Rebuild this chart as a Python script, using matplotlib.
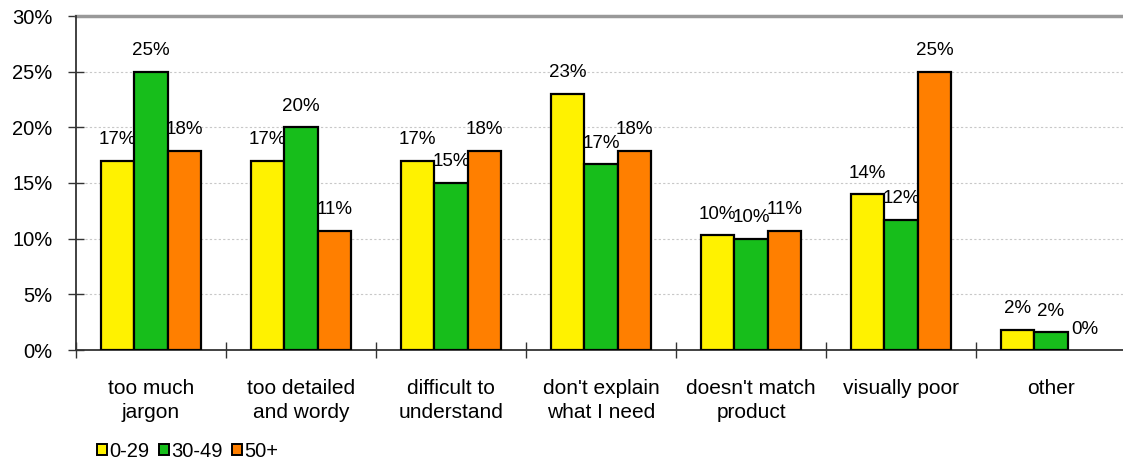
import matplotlib
matplotlib.use("Agg")
import matplotlib.pyplot as plt
from matplotlib.patches import Patch
import numpy as np

plt.rcParams['font.family'] = ['Liberation Sans', 'DejaVu Sans']

categories = ["too much\njargon", "too detailed\nand wordy", "difficult to\nunderstand",
              "don't explain\nwhat I need", "doesn't match\nproduct", "visually poor", "other"]
series_names = ["0-29", "30-49", "50+"]
age_0_29 = [17.0, 17.0, 17.0, 23.0, 10.3, 14.0, 1.8]
age_30_49 = [25.0, 20.0, 15.0, 16.7, 10.0, 11.7, 1.6]
age_50_plus = [17.9, 10.7, 17.9, 17.9, 10.7, 25.0, 0.0]
y_ticks = [0, 5, 10, 15, 20, 25, 30]

colors = ["#FFF200", "#17BE1B", "#FF7F00"]
W, H = 1123, 461
fig = plt.figure(figsize=(W / 100, H / 100), dpi=100)
ax = fig.add_axes([76 / W, (H - 350) / H, 1050 / W, 334 / H])

x = np.arange(len(categories))
bw = 2 / 9
for k, (vals, col, name) in enumerate(zip([age_0_29, age_30_49, age_50_plus], colors, series_names)):
    pos = x + (k - 1) * bw
    lws = [1.6 if v > 0 else 0 for v in vals]
    ax.bar(pos, vals, width=bw, color=col, edgecolor="black", linewidth=lws, zorder=3, label=name)
    for px, v in zip(pos, vals):
        ax.annotate(f"{round(v):d}%", (px, v), xytext=(0, 9), textcoords="offset points",
                    ha="center", va="bottom", fontsize=13.5, zorder=4)

ax.set_xlim(-0.5, len(categories) - 0.5)
ax.set_ylim(0, 30)

# gridlines
for yv in y_ticks[1:-1]:
    ax.axhline(yv, color="#C8C8C8", linestyle=(0, (2, 2)), linewidth=0.8, zorder=1)
ax.axhline(30, color="#999999", linewidth=2.5, zorder=2, clip_on=False)

for s in ["top", "right"]:
    ax.spines[s].set_visible(False)
ax.spines["left"].set_color("#333333")
ax.spines["bottom"].set_color("#333333")
ax.spines["left"].set_linewidth(1.3)
ax.spines["bottom"].set_linewidth(1.3)

ax.set_yticks(y_ticks)
ax.set_yticklabels([f"{t}%" for t in y_ticks])
ax.tick_params(axis="y", direction="inout", length=12, width=1, color="#333333",
               labelsize=14.5, pad=11)

ax.set_xticks(np.arange(-0.5, len(categories), 1.0))
ax.set_xticklabels([])
ax.tick_params(axis="x", which="major", direction="inout", length=12, width=1, color="#333333")
ax.set_xticks(x, minor=True)
ax.set_xticklabels(categories, minor=True, fontsize=15, linespacing=1.32)
ax.tick_params(axis="x", which="minor", length=0, pad=21)

handles = [Patch(facecolor=c, edgecolor="black", linewidth=1.4) for c in colors]
fig.legend(handles, series_names, loc="center left", bbox_to_anchor=(97 / W, 1 - 451 / H),
           frameon=False, fontsize=14.5, handlelength=0.5, handleheight=0.5,
           handletextpad=0.12, columnspacing=0.45, ncol=3, borderpad=0, borderaxespad=0)

fig.savefig("out.png", dpi=100)
